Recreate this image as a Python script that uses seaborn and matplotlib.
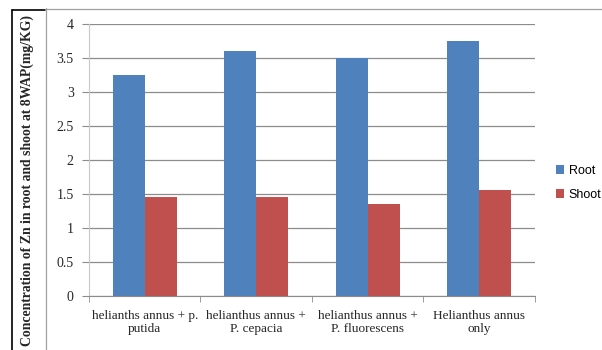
import matplotlib
matplotlib.use("Agg")
import matplotlib.pyplot as plt
from matplotlib.lines import Line2D
import seaborn as sns
import pandas as pd

# Zn concentration (mg/kg) at 8 weeks after planting
treatments = [
    "helianths annus + p.\nputida",
    "helianthus annus +\nP. cepacia",
    "helianthus annus +\nP. fluorescens",
    "Helianthus annus\nonly",
]
root_values = [3.25, 3.6, 3.5, 3.75]
shoot_values = [1.45, 1.46, 1.35, 1.56]
series_names = ["Root", "Shoot"]
y_ticks = [0, 0.5, 1, 1.5, 2, 2.5, 3, 3.5, 4]
y_tick_labels = ["0", "0.5", "1", "1.5", "2", "2.5", "3", "3.5", "4"]

df = pd.DataFrame({
    "treatment": treatments * 2,
    "part": [series_names[0]] * 4 + [series_names[1]] * 4,
    "zn": root_values + shoot_values,
})

sns.set_style("white")
plt.rcParams["font.family"] = ["Liberation Serif", "DejaVu Serif"]

fig = plt.figure(figsize=(6.02, 3.5), dpi=100)
ax = fig.add_axes([0.1478, 0.1543, 0.8887 - 0.1478, 0.9314 - 0.1543])

palette = {"Root": "#4f81bd", "Shoot": "#c0504d"}
sns.barplot(data=df, x="treatment", y="zn", hue="part", palette=palette,
            width=0.575, saturation=1, linewidth=0, ax=ax, legend=True)

ax.set_ylim(0, 4)
ax.set_xlim(-0.5, 3.5)
ax.set_yticks(y_ticks)
ax.set_yticklabels(y_tick_labels, fontsize=10)
ax.yaxis.grid(True, color="#8c8c8c", linewidth=0.9)
ax.set_axisbelow(True)
for side in ["top", "right"]:
    ax.spines[side].set_visible(False)
ax.spines["left"].set_color("#c8c8c8")
ax.spines["bottom"].set_color("#8c8c8c")
ax.tick_params(axis="y", length=5, color="#8c8c8c", pad=6, left=True)

# category labels centred, boundary ticks between groups
ax.set_xticks([0, 1, 2, 3])
ax.set_xticklabels(treatments, fontsize=9.5, linespacing=1.15)
ax.tick_params(axis="x", length=0, pad=10)
ax.set_xticks([-0.5, 0.5, 1.5, 2.5, 3.5], minor=True)
ax.tick_params(axis="x", which="minor", length=4, color="#8c8c8c", bottom=True)

ax.set_xlabel("")
ax.set_ylabel("")
fig.text(0.045, 0.483, "Concentration of Zn in root and shoot at 8WAP(mg/KG)",
         rotation=90, ha="center", va="center", fontsize=9.9, fontweight="bold")

leg = ax.legend(loc="center left", bbox_to_anchor=(1.035, 0.417), frameon=False,
                borderaxespad=0, handlelength=0.7, handleheight=0.7,
                handletextpad=0.35, labelspacing=0.95,
                prop={"family": "Liberation Sans", "size": 9})
for t in leg.get_texts():
    t.set_color("black")

# surrounding frame lines
W, H = 602.0, 350.0
def fx(x):
    return x / W
def fy(y):
    return 1 - y / H
fig.add_artist(Line2D([fx(12), fx(12)], [fy(10), fy(350)], color="black", lw=1.2))
fig.add_artist(Line2D([fx(12), fx(45)], [fy(10), fy(10)], color="black", lw=1.2))
fig.add_artist(Line2D([fx(46), fx(46)], [fy(8), fy(350)], color="#a0a0a0", lw=0.9))
fig.add_artist(Line2D([fx(46), fx(602)], [fy(9), fy(9)], color="#a0a0a0", lw=0.9))

fig.savefig("out.png", dpi=100)
